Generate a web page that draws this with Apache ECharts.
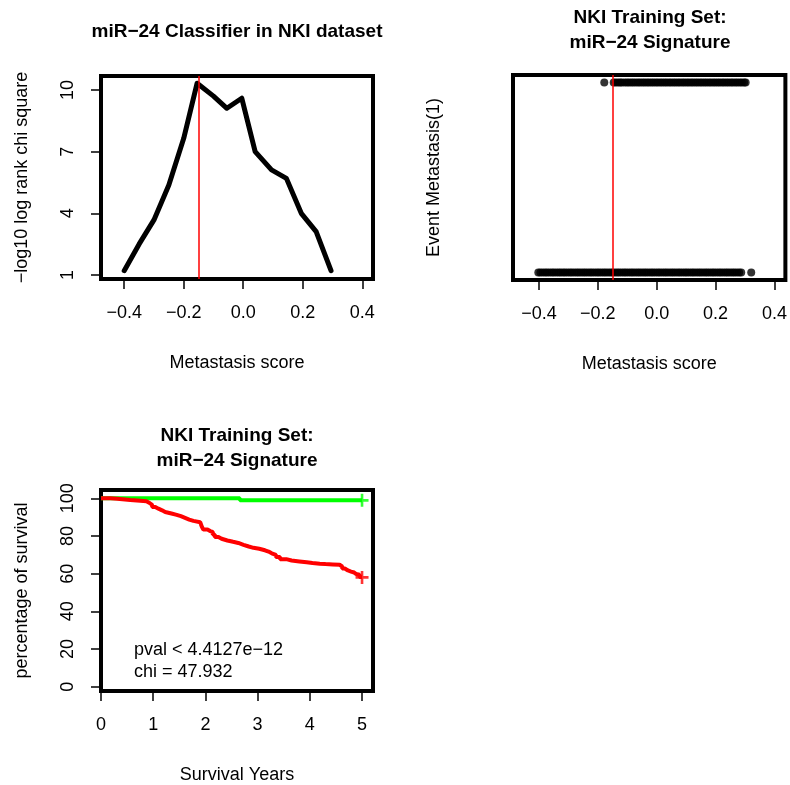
<!DOCTYPE html>
<html>
<head>
<meta charset="utf-8">
<script src="https://cdn.jsdelivr.net/npm/echarts@6/dist/echarts.min.js"></script>
<style>html,body{margin:0;padding:0;background:#fff;}#c{width:790px;height:785px;}</style>
</head>
<body>
<div id="c"></div>
<script>
// ---- data ----
const scoreX = [-0.40, -0.35, -0.30, -0.25, -0.20, -0.155, -0.10, -0.055, -0.005, 0.04, 0.095, 0.145, 0.195, 0.245, 0.295];
const chiY   = [1.21, 2.5, 3.68, 5.38, 7.65, 10.33, 9.7, 9.11, 9.6, 7.0, 6.11, 5.70, 4.0, 3.11, 1.21];
const cutoff = -0.15;
const eventTopX = [-0.178, -0.146, -0.139, -0.131, -0.124, -0.118, -0.109, -0.101, -0.094, -0.086, -0.079, -0.071, -0.063, -0.056, -0.048, -0.041, -0.033, -0.026, -0.018, -0.011, -0.003, 0.004, 0.012, 0.019, 0.027, 0.034, 0.042, 0.049, 0.057, 0.064, 0.072, 0.079, 0.087, 0.094, 0.102, 0.109, 0.117, 0.124, 0.132, 0.139, 0.147, 0.154, 0.162, 0.169, 0.177, 0.184, 0.192, 0.199, 0.207, 0.214, 0.222, 0.229, 0.237, 0.244, 0.252, 0.259, 0.267, 0.274, 0.282, 0.289, 0.297, 0.302];
const eventBottomX = [-0.402, -0.395, -0.387, -0.379, -0.372, -0.364, -0.356, -0.349, -0.341, -0.333, -0.326, -0.318, -0.311, -0.303, -0.295, -0.288, -0.280, -0.272, -0.265, -0.257, -0.249, -0.242, -0.234, -0.226, -0.219, -0.211, -0.203, -0.196, -0.188, -0.180, -0.173, -0.165, -0.157, -0.150, -0.142, -0.134, -0.127, -0.119, -0.111, -0.104, -0.096, -0.088, -0.081, -0.073, -0.065, -0.058, -0.050, -0.042, -0.035, -0.027, -0.019, -0.012, -0.004, 0.004, 0.011, 0.019, 0.027, 0.034, 0.042, 0.050, 0.057, 0.065, 0.073, 0.080, 0.088, 0.096, 0.103, 0.111, 0.119, 0.126, 0.134, 0.142, 0.149, 0.157, 0.165, 0.172, 0.180, 0.188, 0.195, 0.203, 0.211, 0.218, 0.226, 0.234, 0.241, 0.249, 0.257, 0.264, 0.272, 0.280, 0.287, 0.321];
const kmGoodT = [0, 2.66, 5.0];
const kmGoodS = [100, 98.9, 98.9];
const kmPoorT = [0, 0.18, 0.31, 0.56, 0.75, 0.87, 0.93, 0.98, 1.04, 1.10, 1.17, 1.23, 1.35, 1.45, 1.53, 1.61, 1.69, 1.77, 1.90, 1.93, 1.96, 2.04, 2.09, 2.14, 2.18, 2.25, 2.31, 2.42, 2.53, 2.63, 2.73, 2.83, 2.92, 3.03, 3.14, 3.21, 3.27, 3.35, 3.43, 3.55, 3.65, 3.80, 3.94, 4.05, 4.19, 4.30, 4.44, 4.57, 4.62, 4.67, 4.73, 4.79, 4.85, 4.89, 4.95, 5.0];
const kmPoorS = [100, 99.8, 99.1, 98.7, 98.4, 97.5, 96.5, 95.4, 94.5, 93.6, 92.7, 91.9, 91.2, 90.5, 89.6, 88.7, 88.0, 87.3, 86.4, 85.0, 83.4, 82.6, 82.2, 80.8, 79.4, 78.5, 77.6, 76.9, 76.3, 75.3, 74.4, 73.7, 73.2, 72.4, 71.7, 70.8, 70.0, 68.8, 67.7, 67.0, 66.5, 66.0, 65.6, 65.3, 65.1, 64.9, 64.7, 63.8, 62.7, 61.7, 61.1, 60.6, 59.8, 59.4, 58.2, 58.0];
const scoreTicks = [-0.4, -0.2, 0, 0.2, 0.4];
const chiTicks = [1, 4, 7, 10];
const yearTicks = [0, 1, 2, 3, 4, 5];
const survTicks = [0, 20, 40, 60, 80, 100];
const pvalText = 'pval < 4.4127e\u221212';
const chiText = 'chi = 47.932';

// ---- chart ----
const FONT = '"Liberation Sans", Arial, Helvetica, sans-serif';
const FS = 18;
const chart = echarts.init(document.getElementById('c'), null, {renderer: 'canvas'});
const minus = s => s.replace('-', '\u2212');
const fmt1 = v => minus(Number(v).toFixed(1));
const fmt0 = v => minus(String(Math.round(v)));

function xAxisDef(gi, min, max, ticks, fmt, name) {
  return {
    type: 'value', gridIndex: gi, min: min, max: max, position: 'bottom',
    axisLine: {show: false, onZero: false}, splitLine: {show: false},
    axisTick: {show: true, customValues: ticks, length: 10, lineStyle: {color: '#000', width: 1.5}},
    axisLabel: {show: true, customValues: ticks, formatter: fmt, margin: 25, color: '#000', fontSize: FS, fontFamily: FONT},
    name: name, nameLocation: 'middle', nameGap: 75,
    nameTextStyle: {color: '#000', fontSize: FS, fontFamily: FONT}
  };
}
function yAxisDef(gi, min, max, ticks, fmt, name, showTicks) {
  return {
    type: 'value', gridIndex: gi, min: min, max: max, position: 'left',
    axisLine: {show: false, onZero: false}, splitLine: {show: false},
    axisTick: {show: showTicks, customValues: ticks, length: 10, lineStyle: {color: '#000', width: 1.5}},
    axisLabel: {show: showTicks, customValues: ticks, formatter: fmt, rotate: 90, margin: 24, color: '#000', fontSize: FS, fontFamily: FONT},
    name: name, nameLocation: 'middle', nameGap: 70,
    nameTextStyle: {color: '#000', fontSize: FS, fontFamily: FONT}
  };
}
const cutLine = {
  symbol: 'none', silent: true, z: 10, animation: false,
  label: {show: false},
  lineStyle: {color: '#FF0000', width: 1.5, type: 'solid'},
  data: [{xAxis: cutoff}]
};
const plusPath = 'path://M4,0h2v4h4v2h-4v4h-2v-4h-4v-2h4z';
const titleStyle = {fontSize: 19, fontWeight: 'bold', fontFamily: FONT, color: '#000', lineHeight: 25};

const option = {
  animation: false,
  backgroundColor: '#fff',
  title: [
    {text: 'miR\u221224 Classifier in NKI dataset', left: 237, top: 19, textAlign: 'center', padding: 0, textStyle: titleStyle},
    {text: 'NKI Training Set:\nmiR\u221224 Signature', left: 650, top: 5, textAlign: 'center', padding: 0, textStyle: titleStyle},
    {text: 'NKI Training Set:\nmiR\u221224 Signature', left: 237, top: 423, textAlign: 'center', padding: 0, textStyle: titleStyle}
  ],
  grid: [
    {left: 101, top: 76, width: 272, height: 203, show: true, borderColor: '#000', borderWidth: 4, containLabel: false},
    {left: 513, top: 75, width: 274, height: 205, show: true, borderColor: '#000', borderWidth: 4, containLabel: false},
    {left: 101, top: 490, width: 272, height: 202, show: true, borderColor: '#000', borderWidth: 4, containLabel: false}
  ],
  xAxis: [
    xAxisDef(0, -0.478, 0.436, scoreTicks, fmt1, 'Metastasis score'),
    xAxisDef(1, -0.488, 0.437, scoreTicks, fmt1, 'Metastasis score'),
    xAxisDef(2, 0, 5.21, yearTicks, fmt0, 'Survival Years')
  ],
  yAxis: [
    yAxisDef(0, 0.805, 10.68, chiTicks, fmt0, '\u2212log10 log rank chi square', true),
    yAxisDef(1, -0.04, 1.04, [], fmt0, 'Event Metastasis(1)', false),
    yAxisDef(2, -2.3, 104.4, survTicks, fmt0, 'percentage of survival', true)
  ],
  series: [
    {type: 'line', xAxisIndex: 0, yAxisIndex: 0, showSymbol: false, symbol: 'none',
     data: scoreX.map((x, i) => [x, chiY[i]]),
     lineStyle: {color: '#000', width: 5, join: 'round', cap: 'round'},
     markLine: cutLine},
    {type: 'scatter', xAxisIndex: 1, yAxisIndex: 1, symbol: 'circle', symbolSize: 8,
     itemStyle: {color: '#000'},
     data: eventTopX.map(x => [x, 1]).concat(eventBottomX.map(x => [x, 0])),
     markLine: cutLine},
    {type: 'line', xAxisIndex: 2, yAxisIndex: 2, step: 'end', symbol: 'none', showSymbol: false,
     data: kmGoodT.map((t, i) => [t, kmGoodS[i]]),
     lineStyle: {color: '#00FF00', width: 4}},
    {type: 'line', xAxisIndex: 2, yAxisIndex: 2, step: 'end', symbol: 'none', showSymbol: false,
     data: kmPoorT.map((t, i) => [t, kmPoorS[i]]),
     lineStyle: {color: '#FF0000', width: 4}},
    {type: 'scatter', xAxisIndex: 2, yAxisIndex: 2, symbol: plusPath, symbolSize: 13,
     itemStyle: {color: '#00FF00'},
     data: [[kmGoodT[kmGoodT.length - 1], kmGoodS[kmGoodS.length - 1]]]},
    {type: 'scatter', xAxisIndex: 2, yAxisIndex: 2, symbol: plusPath, symbolSize: 13,
     itemStyle: {color: '#FF0000'},
     data: [[kmPoorT[kmPoorT.length - 1], kmPoorS[kmPoorS.length - 1]]]}
  ],
  graphic: [
    {type: 'text', left: 134, top: 641, style: {text: pvalText, fill: '#000', font: FS + 'px ' + FONT}},
    {type: 'text', left: 134, top: 663, style: {text: chiText, fill: '#000', font: FS + 'px ' + FONT}}
  ]
};
chart.setOption(option);
</script>
</body>
</html>
